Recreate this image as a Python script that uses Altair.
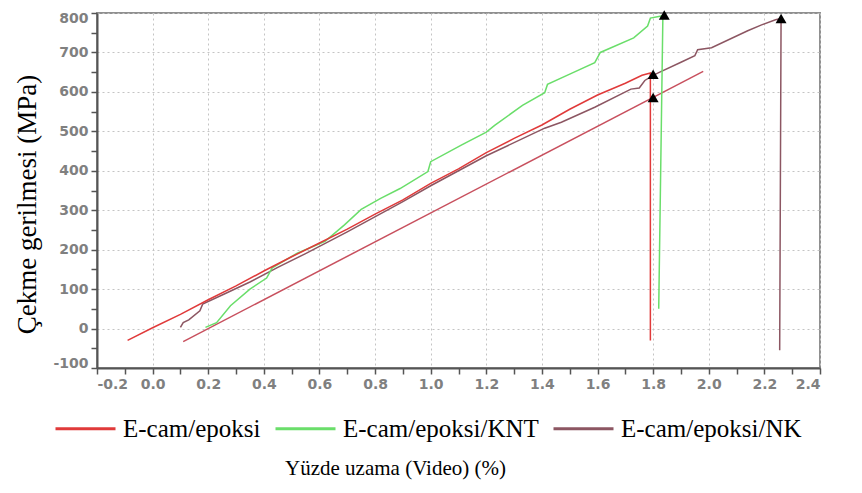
import altair as alt
import pandas as pd

# ---- data ----
red_x = [-0.09, 0.0, 0.1, 0.2, 0.3, 0.4, 0.5, 0.6, 0.7, 0.8, 0.9, 1.0, 1.1, 1.2, 1.3, 1.4, 1.5, 1.6, 1.7, 1.76, 1.79, 1.79]
red_y = [-30, 2, 36, 73, 108, 146, 182, 217, 252, 290, 326, 368, 405, 446, 482, 516, 556, 592, 622, 642, 648, -30]

knt_x = [0.19, 0.23, 0.28, 0.35, 0.41, 0.43, 0.52, 0.62, 0.69, 0.75, 0.82, 0.89, 0.99, 1.0, 1.11, 1.2, 1.23, 1.33, 1.41, 1.42, 1.5, 1.59, 1.61, 1.73, 1.78, 1.79, 1.835, 1.82]
knt_y = [3, 15, 58, 100, 128, 154, 191, 221, 263, 302, 330, 355, 398, 423, 465, 498, 515, 566, 598, 619, 645, 674, 700, 737, 767, 787, 793, 50]

nk_x = [0.10, 0.11, 0.13, 0.17, 0.18, 0.25, 0.35, 0.45, 0.55, 0.7, 0.9, 1.0, 1.2, 1.41, 1.47, 1.59, 1.72, 1.75, 1.77, 1.8, 1.82, 1.9, 1.95, 1.96, 2.01, 2.14, 2.19, 2.24, 2.26, 2.255]
nk_y = [3, 15, 22, 45, 62, 85, 118, 155, 190, 245, 322, 362, 438, 508, 523, 561, 607, 610, 629, 642, 649, 675, 692, 707, 712, 755, 770, 783, 786, -55]

ofs_x = [0.11, 1.98]
ofs_y = [-33, 652]

peak_x = [1.80, 1.80, 1.84, 2.26]
peak_y = [645, 586, 795, 786]

names = ["E-cam/epoksi", "E-cam/epoksi/KNT", "E-cam/epoksi/NK", "ofset"]
colors = ["#e03a3a", "#6ade6a", "#8c5662", "#c8505e"]

x_ticks = [round(-0.2 + 0.1 * k, 1) for k in range(27)]
y_ticks = list(range(-100, 801, 50))

rows = []
for nm, xs, ys in [("ofset", ofs_x, ofs_y), ("E-cam/epoksi/NK", nk_x, nk_y),
                   ("E-cam/epoksi/KNT", knt_x, knt_y), ("E-cam/epoksi", red_x, red_y)]:
    for i, (a, b) in enumerate(zip(xs, ys)):
        rows.append({"x": a, "y": b, "seri": nm, "i": i})
df = pd.DataFrame(rows)
peaks = pd.DataFrame({"x": peak_x, "y": peak_y})

serif = "Liberation Serif"

x_axis = alt.Axis(
    values=x_ticks, tickCount=200, labelOverlap=False,
    labelExpr="abs(round(datum.value*10)) % 2 == 0 ? (datum.value < 0 ? '-' : '') + format(abs(datum.value), '.1f') : ''",
    gridOpacity={"condition": {"test": "abs(round(datum.value*10)) % 2 == 1", "value": 0}, "value": 1},
    title="Yüzde uzama (Video) (%)",
    titleX=298, titleY=100, titleBaseline="middle", titleAlign="center",
    titleFont=serif, titleFontSize=21, titleFontWeight="normal", titleColor="black",
)
y_axis = alt.Axis(
    values=y_ticks, tickCount=200, labelOverlap=False, labelFlush=True, labelFlushOffset=2,
    labelExpr="datum.value % 100 == 0 ? '' + datum.value : ''",
    gridOpacity={"condition": {"test": "datum.value % 100 != 0", "value": 0}, "value": 1},
    title="Çekme gerilmesi (MPa)",
    titleX=-62, titleY=191, titleBaseline="alphabetic", titleAlign="center", titleAngle=270,
    titleFont=serif, titleFontSize=27, titleFontWeight="normal", titleColor="black",
)

lines = alt.Chart(df).mark_line(strokeWidth=1.5).encode(
    x=alt.X("x:Q", scale=alt.Scale(domain=[-0.2, 2.4], nice=False, zero=False), axis=x_axis),
    y=alt.Y("y:Q", scale=alt.Scale(domain=[-100, 800], nice=False, zero=False), axis=y_axis),
    color=alt.Color("seri:N", scale=alt.Scale(domain=names, range=colors),
                    legend=alt.Legend(values=names[:3], orient="none", legendX=-43, legendY=384,
                                      direction="horizontal", title=None, symbolType="stroke",
                                      symbolSize=3600, symbolStrokeWidth=3, labelFont=serif,
                                      labelFontSize=25, labelColor="black", labelOffset=6,
                                      columnPadding=8, padding=0, labelLimit=400)),
    order=alt.Order("i:Q"),
)

marks = alt.Chart(peaks).mark_point(shape="triangle-up", filled=True, color="black", size=120, opacity=1).encode(
    x="x:Q", y="y:Q"
)

chart = alt.layer(lines, marks).properties(
    width=723, height=355,
    autosize=alt.AutoSizeParams(type="none"),
    padding={"left": 89, "top": 5, "right": 30, "bottom": 118},
).configure_view(stroke="#909090", strokeWidth=2).configure_axis(
    domainColor="#555555", domainWidth=2, tickColor="#555555", tickWidth=1.5, tickSize=6,
    labelFont="DejaVu Sans", labelFontWeight="bold", labelColor="#808080", labelFontSize=14,
    labelPadding=3, gridColor="#c4c4c4", gridDash=[2, 3], gridWidth=1,
)

chart.save("out.html", embed_options={"renderer": "svg", "actions": False})
